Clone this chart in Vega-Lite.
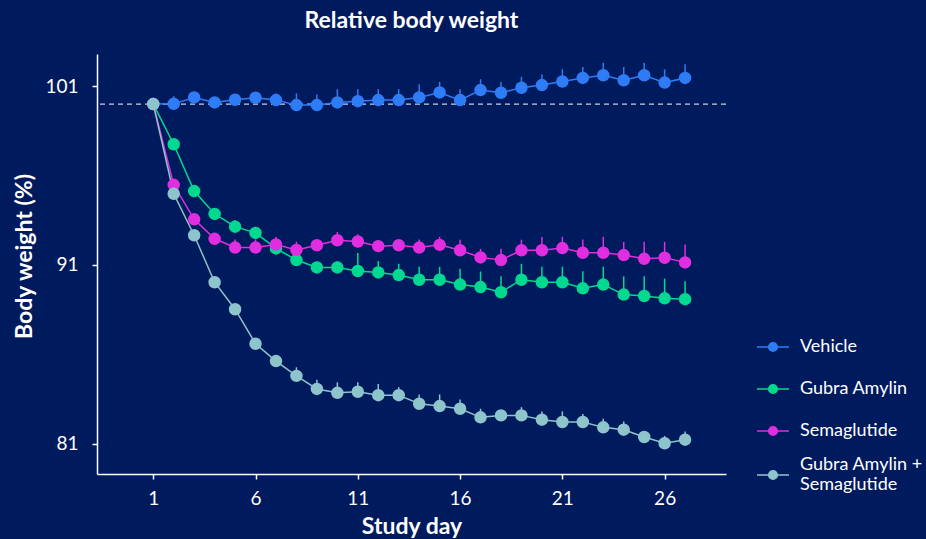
{
  "$schema": "https://vega.github.io/schema/vega-lite/v6.json",
  "width": 629,
  "height": 420,
  "autosize": {"type": "none"},
  "padding": {"left": 97, "top": 54, "right": 200, "bottom": 65},
  "background": "#001a5e",
  "title": {"text": "Relative body weight", "color": "white", "fontSize": 23, "font": "Lato", "fontWeight": "bold", "offset": 21, "anchor": "middle"},
  "config": {
    "view": {"stroke": null},
    "axis": {"domainColor": "white", "tickColor": "white", "labelColor": "white", "titleColor": "white", "grid": false, "labelFont": "Lato", "titleFont": "Lato", "labelFontSize": 19, "titleFontSize": 23, "titleFontWeight": "bold", "domainWidth": 1.5, "tickWidth": 1.5, "tickSize": 5},
    "legend": {"orient": "none", "legendX": 659, "legendY": 276, "labelFontSize": 18, "labelColor": "white", "labelFont": "Lato", "symbolSize": 1024, "symbolType": "M-1,0H1M-0.27,0A0.27,0.27,0,1,0,0.27,0A0.27,0.27,0,1,0,-0.27,0Z", "symbolStrokeWidth": 1.5, "rowPadding": 16, "labelOffset": 10, "padding": 0, "labelLimit": 300, "symbolOpacity": 1}
  },
  "data": {"values": [
    {"day":1,"group":"Vehicle","bw":100.0,"hi":100.0},
    {"day":2,"group":"Vehicle","bw":100.01,"hi":100.44},
    {"day":3,"group":"Vehicle","bw":100.37,"hi":100.47},
    {"day":4,"group":"Vehicle","bw":100.09,"hi":100.19},
    {"day":5,"group":"Vehicle","bw":100.24,"hi":100.54},
    {"day":6,"group":"Vehicle","bw":100.35,"hi":100.5},
    {"day":7,"group":"Vehicle","bw":100.22,"hi":100.59},
    {"day":8,"group":"Vehicle","bw":99.94,"hi":100.59},
    {"day":9,"group":"Vehicle","bw":99.94,"hi":100.54},
    {"day":10,"group":"Vehicle","bw":100.09,"hi":100.83},
    {"day":11,"group":"Vehicle","bw":100.16,"hi":100.83},
    {"day":12,"group":"Vehicle","bw":100.22,"hi":100.83},
    {"day":13,"group":"Vehicle","bw":100.22,"hi":100.83},
    {"day":14,"group":"Vehicle","bw":100.37,"hi":101.11},
    {"day":15,"group":"Vehicle","bw":100.65,"hi":101.24},
    {"day":16,"group":"Vehicle","bw":100.22,"hi":100.83},
    {"day":17,"group":"Vehicle","bw":100.78,"hi":101.39},
    {"day":18,"group":"Vehicle","bw":100.63,"hi":101.24},
    {"day":19,"group":"Vehicle","bw":100.91,"hi":101.52},
    {"day":20,"group":"Vehicle","bw":101.06,"hi":101.67},
    {"day":21,"group":"Vehicle","bw":101.26,"hi":101.95},
    {"day":22,"group":"Vehicle","bw":101.46,"hi":102.07},
    {"day":23,"group":"Vehicle","bw":101.61,"hi":102.31},
    {"day":24,"group":"Vehicle","bw":101.33,"hi":102.07},
    {"day":25,"group":"Vehicle","bw":101.61,"hi":102.31},
    {"day":26,"group":"Vehicle","bw":101.2,"hi":101.94},
    {"day":27,"group":"Vehicle","bw":101.46,"hi":102.22},
    {"day":1,"group":"Gubra Amylin","bw":100.0,"hi":100.0},
    {"day":2,"group":"Gubra Amylin","bw":97.75,"hi":97.95},
    {"day":3,"group":"Gubra Amylin","bw":95.13,"hi":95.39},
    {"day":4,"group":"Gubra Amylin","bw":93.85,"hi":94.05},
    {"day":5,"group":"Gubra Amylin","bw":93.14,"hi":93.51},
    {"day":6,"group":"Gubra Amylin","bw":92.79,"hi":93.09},
    {"day":7,"group":"Gubra Amylin","bw":91.92,"hi":92.17},
    {"day":8,"group":"Gubra Amylin","bw":91.27,"hi":91.52},
    {"day":9,"group":"Gubra Amylin","bw":90.86,"hi":91.19},
    {"day":10,"group":"Gubra Amylin","bw":90.86,"hi":91.21},
    {"day":11,"group":"Gubra Amylin","bw":90.66,"hi":91.66},
    {"day":12,"group":"Gubra Amylin","bw":90.58,"hi":91.21},
    {"day":13,"group":"Gubra Amylin","bw":90.43,"hi":91.06},
    {"day":14,"group":"Gubra Amylin","bw":90.17,"hi":90.89},
    {"day":15,"group":"Gubra Amylin","bw":90.17,"hi":90.89},
    {"day":16,"group":"Gubra Amylin","bw":89.9,"hi":90.79},
    {"day":17,"group":"Gubra Amylin","bw":89.76,"hi":90.63},
    {"day":18,"group":"Gubra Amylin","bw":89.47,"hi":90.36},
    {"day":19,"group":"Gubra Amylin","bw":90.17,"hi":91.06},
    {"day":20,"group":"Gubra Amylin","bw":90.03,"hi":90.9},
    {"day":21,"group":"Gubra Amylin","bw":90.03,"hi":90.9},
    {"day":22,"group":"Gubra Amylin","bw":89.69,"hi":90.64},
    {"day":23,"group":"Gubra Amylin","bw":89.9,"hi":90.9},
    {"day":24,"group":"Gubra Amylin","bw":89.34,"hi":90.36},
    {"day":25,"group":"Gubra Amylin","bw":89.26,"hi":90.36},
    {"day":26,"group":"Gubra Amylin","bw":89.13,"hi":90.23},
    {"day":27,"group":"Gubra Amylin","bw":89.08,"hi":90.08},
    {"day":1,"group":"Semaglutide","bw":100.0,"hi":100.0},
    {"day":2,"group":"Semaglutide","bw":95.48,"hi":95.63},
    {"day":3,"group":"Semaglutide","bw":93.55,"hi":93.75},
    {"day":4,"group":"Semaglutide","bw":92.46,"hi":92.65},
    {"day":5,"group":"Semaglutide","bw":91.97,"hi":92.42},
    {"day":6,"group":"Semaglutide","bw":91.97,"hi":92.42},
    {"day":7,"group":"Semaglutide","bw":92.14,"hi":92.57},
    {"day":8,"group":"Semaglutide","bw":91.84,"hi":92.3},
    {"day":9,"group":"Semaglutide","bw":92.1,"hi":92.4},
    {"day":10,"group":"Semaglutide","bw":92.38,"hi":92.84},
    {"day":11,"group":"Semaglutide","bw":92.31,"hi":92.71},
    {"day":12,"group":"Semaglutide","bw":92.05,"hi":92.35},
    {"day":13,"group":"Semaglutide","bw":92.1,"hi":92.36},
    {"day":14,"group":"Semaglutide","bw":91.97,"hi":92.42},
    {"day":15,"group":"Semaglutide","bw":92.12,"hi":92.57},
    {"day":16,"group":"Semaglutide","bw":91.82,"hi":92.41},
    {"day":17,"group":"Semaglutide","bw":91.42,"hi":91.9},
    {"day":18,"group":"Semaglutide","bw":91.27,"hi":91.9},
    {"day":19,"group":"Semaglutide","bw":91.82,"hi":92.41},
    {"day":20,"group":"Semaglutide","bw":91.82,"hi":92.56},
    {"day":21,"group":"Semaglutide","bw":91.94,"hi":92.57},
    {"day":22,"group":"Semaglutide","bw":91.68,"hi":92.42},
    {"day":23,"group":"Semaglutide","bw":91.68,"hi":92.57},
    {"day":24,"group":"Semaglutide","bw":91.55,"hi":92.29},
    {"day":25,"group":"Semaglutide","bw":91.34,"hi":92.29},
    {"day":26,"group":"Semaglutide","bw":91.4,"hi":92.29},
    {"day":27,"group":"Semaglutide","bw":91.14,"hi":92.14},
    {"day":1,"group":"Gubra Amylin + Semaglutide","bw":100.0,"hi":100.0},
    {"day":2,"group":"Gubra Amylin + Semaglutide","bw":94.98,"hi":95.08},
    {"day":3,"group":"Gubra Amylin + Semaglutide","bw":92.66,"hi":92.76},
    {"day":4,"group":"Gubra Amylin + Semaglutide","bw":90.03,"hi":90.23},
    {"day":5,"group":"Gubra Amylin + Semaglutide","bw":88.52,"hi":88.77},
    {"day":6,"group":"Gubra Amylin + Semaglutide","bw":86.59,"hi":86.79},
    {"day":7,"group":"Gubra Amylin + Semaglutide","bw":85.62,"hi":85.82},
    {"day":8,"group":"Gubra Amylin + Semaglutide","bw":84.79,"hi":85.27},
    {"day":9,"group":"Gubra Amylin + Semaglutide","bw":84.06,"hi":84.58},
    {"day":10,"group":"Gubra Amylin + Semaglutide","bw":83.84,"hi":84.43},
    {"day":11,"group":"Gubra Amylin + Semaglutide","bw":83.9,"hi":84.44},
    {"day":12,"group":"Gubra Amylin + Semaglutide","bw":83.71,"hi":84.34},
    {"day":13,"group":"Gubra Amylin + Semaglutide","bw":83.71,"hi":84.16},
    {"day":14,"group":"Gubra Amylin + Semaglutide","bw":83.23,"hi":83.75},
    {"day":15,"group":"Gubra Amylin + Semaglutide","bw":83.1,"hi":83.75},
    {"day":16,"group":"Gubra Amylin + Semaglutide","bw":82.95,"hi":83.47},
    {"day":17,"group":"Gubra Amylin + Semaglutide","bw":82.47,"hi":82.95},
    {"day":18,"group":"Gubra Amylin + Semaglutide","bw":82.58,"hi":82.86},
    {"day":19,"group":"Gubra Amylin + Semaglutide","bw":82.58,"hi":83.04},
    {"day":20,"group":"Gubra Amylin + Semaglutide","bw":82.34,"hi":82.8},
    {"day":21,"group":"Gubra Amylin + Semaglutide","bw":82.21,"hi":82.8},
    {"day":22,"group":"Gubra Amylin + Semaglutide","bw":82.21,"hi":82.66},
    {"day":23,"group":"Gubra Amylin + Semaglutide","bw":81.91,"hi":82.39},
    {"day":24,"group":"Gubra Amylin + Semaglutide","bw":81.78,"hi":82.24},
    {"day":25,"group":"Gubra Amylin + Semaglutide","bw":81.37,"hi":81.69},
    {"day":26,"group":"Gubra Amylin + Semaglutide","bw":81.02,"hi":81.43},
    {"day":27,"group":"Gubra Amylin + Semaglutide","bw":81.22,"hi":81.68}
  ]},
  "encoding": {
    "x": {"field": "day", "type": "quantitative", "title": "Study day", "scale": {"domain": [-1.75, 29], "nice": false, "zero": false}, "axis": {"values": [1, 6, 11, 16, 21, 26], "labelPadding": 10, "titlePadding": 7}},
    "y": {"field": "bw", "type": "quantitative", "title": "Body weight (%)", "scale": {"domain": [79.3, 102.8], "nice": false, "zero": false}, "axis": {"values": [81, 91, 101], "labelPadding": 14, "titlePadding": 8, "titleY": 202}}
  },
  "layer": [
    {
      "data": {"values": [{"ref": 100}]},
      "mark": {"type": "rule", "color": "#c9cfe0", "strokeDash": [5, 4], "strokeWidth": 1.3},
      "encoding": {"x": null, "y": {"field": "ref", "type": "quantitative"}}
    },
    {
      "mark": {"type": "rule", "strokeWidth": 1.5},
      "encoding": {
        "y2": {"field": "hi"},
        "stroke": {"field": "group", "type": "nominal", "scale": {"domain": ["Vehicle", "Gubra Amylin", "Semaglutide", "Gubra Amylin + Semaglutide"], "range": ["#2e7cf6", "#00d98f", "#e02ee0", "#8ec4cb"]}}
      }
    },
    {
      "mark": {"type": "line", "strokeWidth": 1.5},
      "encoding": {
        "stroke": {"field": "group", "type": "nominal"}
      }
    },
    {
      "mark": {"type": "point", "filled": true, "size": 110, "opacity": 1},
      "encoding": {
        "fill": {"field": "group", "type": "nominal", "scale": {"domain": ["Vehicle", "Gubra Amylin", "Semaglutide", "Gubra Amylin + Semaglutide"], "range": ["#2e7cf6", "#00d98f", "#e02ee0", "#8ec4cb"]}, "legend": {"title": null, "labelExpr": "datum.label == 'Gubra Amylin + Semaglutide' ? ['Gubra Amylin +', ' Semaglutide'] : datum.label", "encoding": {"labels": {"dy": {"value": {"expr": "datum.label == 'Gubra Amylin + Semaglutide' ? -10 : 0"}}}}}},
        "stroke": {"field": "group", "type": "nominal", "legend": {"title": null, "labelExpr": "datum.label == 'Gubra Amylin + Semaglutide' ? ['Gubra Amylin +', ' Semaglutide'] : datum.label", "encoding": {"labels": {"dy": {"value": {"expr": "datum.label == 'Gubra Amylin + Semaglutide' ? -10 : 0"}}}}}}
      }
    }
  ]
}
